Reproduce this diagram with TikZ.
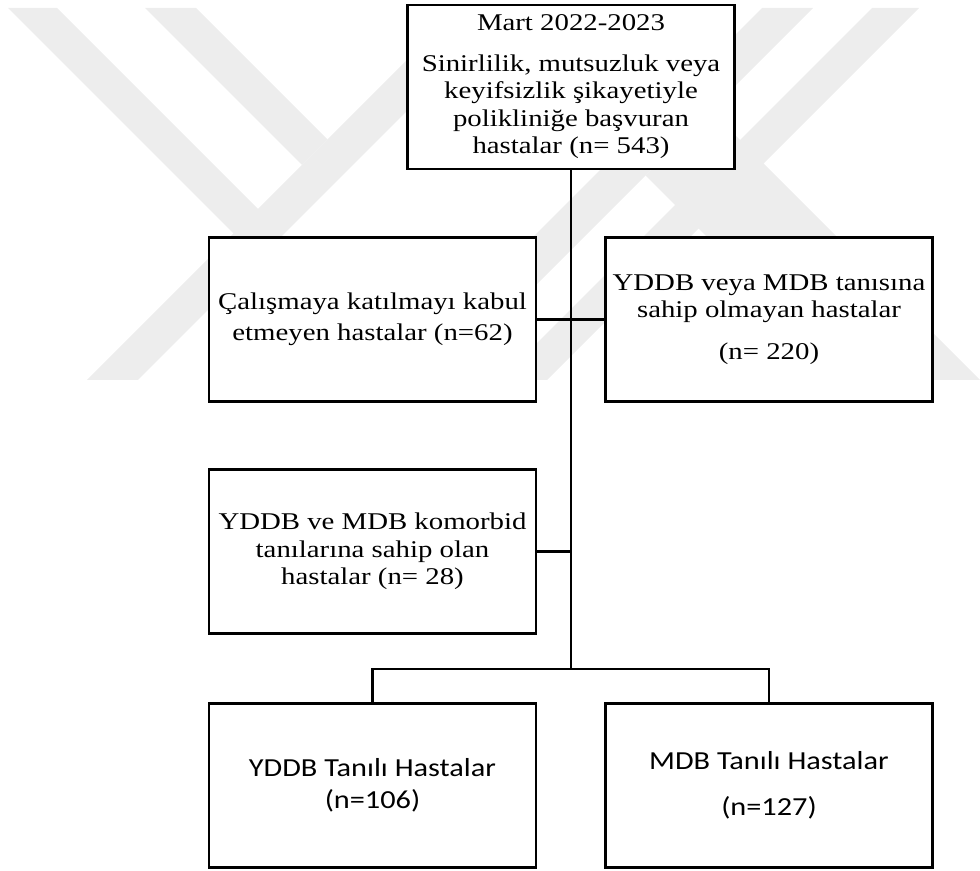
\documentclass[tikz,border=0pt]{standalone}
\usepackage{fontspec}
\setmainfont{Liberation Serif}[FakeStretch=1.2]
\newfontfamily\boxsans{Carlito}[FakeStretch=1.165]
\begin{document}
\begin{tikzpicture}[x=0.5pt, y=-0.5pt,
        flowbox/.style={draw, line width=1.4pt, fill=white, minimum width=163.5pt,
            minimum height=82pt, inner sep=1pt, align=center,
            font=\fontsize{12}{13.75}\selectfont},
        sansbox/.style={flowbox, font=\boxsans\fontsize{13}{16}\selectfont},
        link/.style={line width=1.4pt},
        logo/.style={fill=black!7}]
    \useasboundingbox (0, 0) rectangle (980, 871);

    % faint logo in the background
    \begin{scope}
        \clip (0, 8) rectangle (980, 380);
        \fill[logo] (8, 8) -- (57, 8) -- (258, 209) -- (259, 259) -- cycle;
        \fill[logo] (145, 8) -- (196, 8) -- (327.5, 139.5) -- (302, 165) -- cycle;
        \fill[logo] (459, 8) -- (510, 8) -- (138, 380) -- (87, 380) -- cycle;
        \fill[logo] (762, 8) -- (813, 8) -- (441, 380) -- (390, 380) -- cycle;
        \fill[logo] (872, 8) -- (919, 8) -- (547, 380) -- (500, 380) -- cycle;
        \fill[logo] (710.5, 110.5) -- (980, 380) -- (850, 380) -- (645.5, 175.5) -- cycle;
    \end{scope}

    \node[flowbox] (start) at (571, 87) {Mart 2022-2023\\[6.5pt]
        Sinirlilik, mutsuzluk veya\\ keyifsizlik şikayetiyle\\
        polikliniğe başvuran\\ hastalar (n= 543)};
    \node[flowbox] (refused) at (372.5, 319.5)
        {Çalışmaya katılmayı kabul\\[2pt] etmeyen hastalar (n=62)};
    \node[flowbox] (nodiag) at (769, 319.5)
        {YDDB veya MDB tanısına\\ sahip olmayan hastalar\\[7pt] (n= 220)};
    \node[flowbox] (comorbid) at (372.5, 551.5)
        {YDDB ve MDB komorbid\\ tanılarına sahip olan\\ hastalar (n= 28)};
    \node[sansbox] (yddb) at (372.5, 785.5) {YDDB Tanılı Hastalar\\ (n=106)};
    \node[sansbox] (mdb) at (769, 785.5) {MDB Tanılı Hastalar\\[7pt] (n=127)};
    \coordinate (fork) at (571, 669);

    \draw[link] (start.south) -- (fork);
    \draw[link] (refused.east) -- (nodiag.west);
    \draw[link] (comorbid.east) -- (comorbid.east -| fork);
    \draw[link] (yddb.north) |- (fork) -| (mdb.north);
\end{tikzpicture}
\end{document}
